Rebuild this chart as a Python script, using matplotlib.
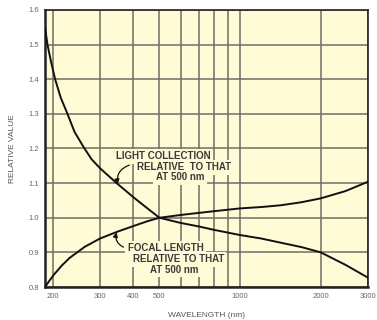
import matplotlib
matplotlib.use("Agg")
import matplotlib.pyplot as plt
from matplotlib.ticker import FixedLocator, NullFormatter

# values
wavelength_lc = [187, 191, 197, 204, 214, 226, 241, 261, 279, 300, 346, 403, 451,
                 500, 600, 700, 800, 1000, 1200, 1417, 1700, 2000, 2473, 3000]
light_collection = [1.55, 1.50, 1.45, 1.40, 1.347, 1.303, 1.248, 1.203, 1.169, 1.143,
                    1.10, 1.057, 1.027, 1.0, 0.985, 0.975, 0.965, 0.95, 0.94, 0.928,
                    0.915, 0.90, 0.864, 0.827]

wavelength_fl = [187, 195, 201, 216, 231, 263, 300, 349, 403, 451, 500, 600, 700,
                 800, 1000, 1200, 1417, 1700, 2000, 2473, 3000]
focal_length = [0.80, 0.82, 0.834, 0.862, 0.884, 0.916, 0.94, 0.96, 0.977, 0.99,
                1.0, 1.008, 1.014, 1.019, 1.027, 1.031, 1.036, 1.045, 1.056, 1.077,
                1.104]

x_major = [200, 300, 400, 500, 1000, 2000, 3000]
x_minor = [600, 700, 800, 900]
y_ticks = [0.8, 0.9, 1.0, 1.1, 1.2, 1.3, 1.4, 1.5, 1.6]

BG = "#fefbd6"
GRID = "#6f6f62"
TXT = "#3a3a3a"

plt.rcParams["font.family"] = ["Liberation Sans", "DejaVu Sans"]

fig = plt.figure(figsize=(3.77, 3.2), dpi=100)
ax = fig.add_axes([0.1194, 0.1031, 0.8566, 0.8657])
ax.set_facecolor(BG)

ax.set_xscale("log")
ax.set_xlim(187, 3000)
ax.set_ylim(0.8, 1.6)

ax.xaxis.set_major_locator(FixedLocator(x_major))
ax.xaxis.set_minor_locator(FixedLocator(x_minor))
ax.xaxis.set_minor_formatter(NullFormatter())
ax.set_xticklabels([str(v) for v in x_major])
ax.set_yticks(y_ticks)
ax.set_yticklabels([f"{v:.1f}" for v in y_ticks])
ax.tick_params(which="both", length=0, labelsize=5.5, labelcolor="#666666", pad=4)

ax.grid(True, which="both", color=GRID, linewidth=1.1)
ax.set_axisbelow(True)

for side, w in [("left", 1.8), ("bottom", 1.8), ("top", 1.2), ("right", 1.2)]:
    ax.spines[side].set_linewidth(w)
    ax.spines[side].set_color("#222222")

ax.plot(wavelength_lc, light_collection, color="#111111", lw=1.4, zorder=5)
ax.plot(wavelength_fl, focal_length, color="#111111", lw=1.4, zorder=5)

box = dict(boxstyle="square,pad=0.25", facecolor=BG, edgecolor="none")
tkw = dict(fontsize=7, fontweight="bold", color=TXT, ha="center", va="center",
           bbox=box, zorder=3)

ax.text(517, 1.178, "LIGHT COLLECTION", **tkw)
ax.text(619, 1.146, "RELATIVE  TO THAT", **tkw)
ax.text(596, 1.117, "AT 500 nm", **tkw)

ax.text(528, 0.912, "FOCAL LENGTH", **tkw)
ax.text(588, 0.880, "RELATIVE TO THAT", **tkw)
ax.text(566, 0.849, "AT 500 nm", **tkw)

arrow = dict(arrowstyle="-|>", color="#111111", lw=0.9, mutation_scale=7,
             shrinkA=0, shrinkB=0)
ax.annotate("", xy=(349, 1.097), xytext=(386, 1.152),
            arrowprops=dict(connectionstyle="arc3,rad=0.4", **arrow), zorder=6)
ax.annotate("", xy=(346, 0.958), xytext=(367, 0.915),
            arrowprops=dict(connectionstyle="arc3,rad=-0.4", **arrow), zorder=6)

ax.set_xlabel("WAVELENGTH (nm)", fontsize=6, color="#555555", labelpad=9)
ax.set_ylabel("RELATIVE VALUE", fontsize=6, color="#555555", labelpad=9)

fig.savefig("out.png", dpi=100, facecolor="white")
